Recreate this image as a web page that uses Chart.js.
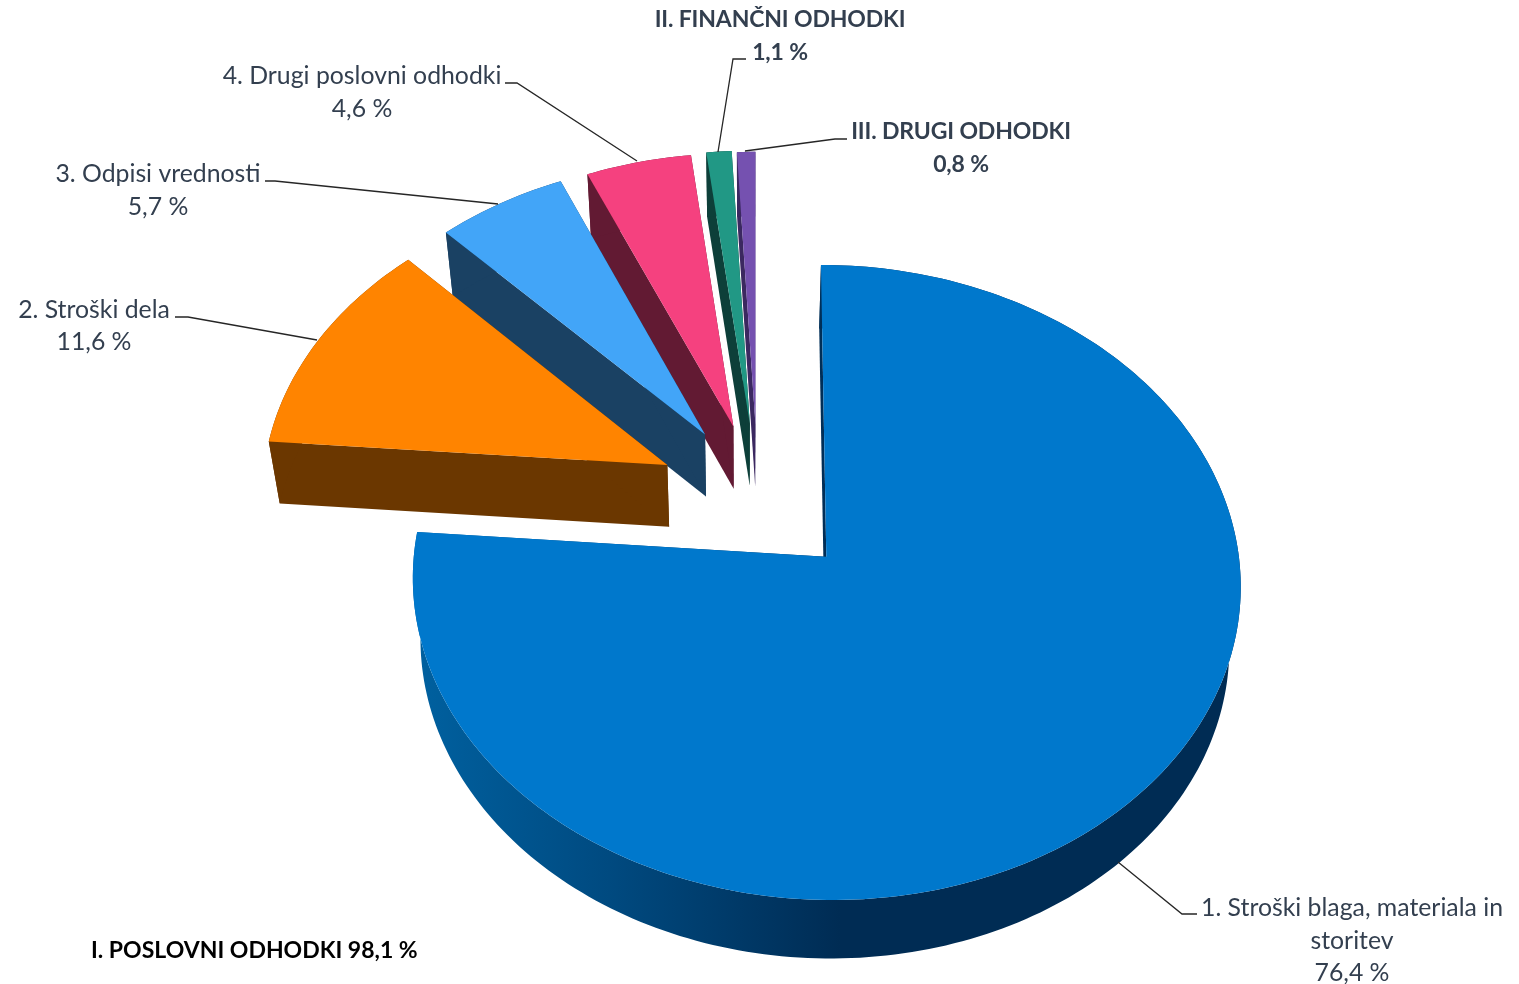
<!DOCTYPE html>
<html>
<head>
<meta charset="utf-8">
<title>Odhodki</title>
<script src="https://cdn.jsdelivr.net/npm/chart.js@4"></script>
<style>
  html, body { margin: 0; padding: 0; background: #fff; overflow: hidden; }
  canvas { display: block; }
</style>
</head>
<body>
<canvas id="pieChart" width="1519" height="984"></canvas>
<script>
// Data
const categories = ['1. Stroški blaga, materiala in storitev', '2. Stroški dela', '3. Odpisi vrednosti',
  '4. Drugi poslovni odhodki', 'II. FINANČNI ODHODKI', 'III. DRUGI ODHODKI'];
const shares = [76.4, 11.6, 5.7, 4.6, 1.1, 0.8];
const groupName = 'I. POSLOVNI ODHODKI';
const groupShare = 98.1;

// Slice colours: top face and side wall
const topColors = ['#0078cc', '#ff8400', '#42a5f8', '#f5417f', '#219885', '#7551b0'];
const wallColors = ['#002c54', '#6b3700', '#1a4163', '#621a33', '#0d3f39', '#3b2860'];

// How far each slice is pulled out (px on the pie plane, 414 px = one radius)
const explode = [109, 99, 98, 97, 99, 97];
// Lean of the pull direction, radians clockwise
const explodeSkew = [0.03, -0.015, 0.03, 0.03, 0.03, 0.03];

// Camera: fitted by eye so that the flat pie lands where the 3D one is
const cam = { cx: 755, cy: 495, a: 305.5, b: 406, p: 0.08, vx: 745, shrink: 0.977, depth: 61.5, depthTilt: 2.5, unit: 414 };

// Label placement: centre x, line centres y, leader polyline
const labelLayout = [
  { x: 1352, ys: [908, 941, 973], lines: ['1. Stroški blaga, materiala in', 'storitev'], lead: [[1197, 914], [1182, 914], [1118, 862]] },
  { x: 94, ys: [310, 342], lead: [[175, 317], [188, 317], [317, 340]] },
  { x: 158, ys: [174, 207], lead: [[265, 181], [275, 181], [498, 204]] },
  { x: 362, ys: [76, 109], lead: [[505, 83], [517, 83], [637, 161]] },
  { x: 780, ys: [20, 53], bold: true, lead: [[746, 59], [733, 59], [718, 152]] },
  { x: 961, ys: [132, 165], bold: true, lead: [[847, 139], [835, 139], [745, 151]] }
];

function pct(v) {
  return v.toFixed(1).replace('.', ',') + ' %';
}

// Pie plane (u right, v away from viewer, in radii) to screen
function project(u, v, low) {
  const w = 1 + cam.p * v;
  let x = cam.cx + cam.b * u / w;
  let y = cam.cy - cam.a * v / w;
  if (low) {
    x = cam.vx + (x - cam.vx) * cam.shrink;
    y += cam.depth + cam.depthTilt * v;
  }
  return [x, y];
}

function fillPoly(ctx, pts, color) {
  ctx.beginPath();
  pts.forEach((p, i) => i ? ctx.lineTo(p[0], p[1]) : ctx.moveTo(p[0], p[1]));
  ctx.closePath();
  ctx.fillStyle = color;
  ctx.fill();
}

// Draws the library's arc elements as tilted slices with a wall under them
const pie3d = {
  id: 'pie3d',
  beforeDatasetDraw(chart, args) {
    const ctx = chart.ctx;
    const arcs = args.meta.data;
    for (let i = arcs.length - 1; i >= 0; i--) {
      const arc = arcs[i];
      const start = arc.startAngle, end = arc.endAngle;
      const mid = (start + end) / 2 + explodeSkew[i];
      const d = arc.options.offset / cam.unit;
      const ou = Math.cos(mid) * d, ov = -Math.sin(mid) * d;
      const steps = Math.max(2, Math.ceil((end - start) / 0.02));
      const rim = [];
      for (let s = 0; s <= steps; s++) {
        const t = start + (end - start) * s / steps;
        rim.push([ou + Math.cos(t), ov - Math.sin(t)]);
      }
      const topRim = rim.map(p => project(p[0], p[1], false));
      const lowRim = rim.map(p => project(p[0], p[1], true));
      const apexTop = project(ou, ov, false), apexLow = project(ou, ov, true);

      let wall = wallColors[i];
      if (i === 0) {
        wall = ctx.createLinearGradient(420, 0, 840, 0);
        wall.addColorStop(0, '#00609f');
        wall.addColorStop(0.45, '#004a80');
        wall.addColorStop(1, wallColors[0]);
      }
      // radial walls, then outer wall, then the top face
      fillPoly(ctx, [apexTop, topRim[0], lowRim[0], apexLow], wall);
      fillPoly(ctx, [apexTop, topRim[steps], lowRim[steps], apexLow], wall);
      fillPoly(ctx, topRim.concat(lowRim.slice().reverse()), wall);
      fillPoly(ctx, [apexTop].concat(topRim), topColors[i]);
    }
    return false;
  },
  afterDraw(chart) {
    const ctx = chart.ctx;
    ctx.save();
    ctx.strokeStyle = '#262626';
    ctx.lineWidth = 1.3;
    labelLayout.forEach(l => {
      ctx.beginPath();
      l.lead.forEach((p, i) => i ? ctx.lineTo(p[0], p[1]) : ctx.moveTo(p[0], p[1]));
      ctx.stroke();
    });
    ctx.textAlign = 'center';
    ctx.textBaseline = 'middle';
    ctx.fillStyle = '#333f4f';
    labelLayout.forEach((l, i) => {
      const lines = (l.lines || [categories[i]]).concat(pct(shares[i]));
      ctx.font = l.bold ? 'bold 23px Lato' : '24.8px Lato';
      ctx.letterSpacing = l.bold ? '-0.15px' : '0px';
      lines.forEach((txt, j) => ctx.fillText(txt, l.x, l.ys[j]));
    });
    ctx.textAlign = 'left';
    ctx.fillStyle = '#000';
    ctx.font = 'bold 23px Lato';
    ctx.letterSpacing = '0px';
    ctx.fillText(groupName + ' ' + pct(groupShare), 91, 951);
    ctx.restore();
  }
};

new Chart(document.getElementById('pieChart').getContext('2d'), {
  type: 'pie',
  data: {
    labels: categories,
    datasets: [{
      data: shares,
      backgroundColor: topColors,
      offset: explode,
      borderWidth: 0
    }]
  },
  options: {
    responsive: false,
    animation: false,
    plugins: { legend: { display: false }, tooltip: { enabled: false } }
  },
  plugins: [pie3d]
});
</script>
</body>
</html>
